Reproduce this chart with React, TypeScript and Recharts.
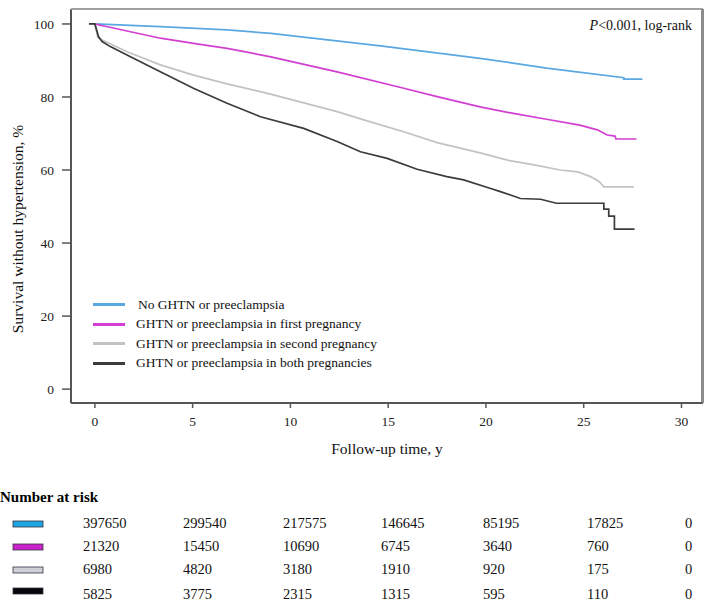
import React from 'react';
import { LineChart, Line, XAxis, YAxis, Legend } from 'recharts';

const FONT = '"Liberation Serif", "Times New Roman", serif';

// Kaplan-Meier curves (years, % survival)
const noTime = [0, 3.35, 6.76, 9.0, 14.6, 19.7, 23.1, 27.05, 27.05, 28.0];
const noSurv = [100, 99.3, 98.4, 97.4, 94.0, 90.6, 87.9, 85.3, 84.9, 84.9];

const firstTime = [0, 3.35, 5.05, 6.76, 9.0, 12.39, 15.8, 17.5, 19.7, 21.4, 23.1, 24.8, 25.7, 26.2, 26.6, 26.65, 27.7];
const firstSurv = [100, 96.1, 94.7, 93.3, 91.0, 86.9, 82.4, 80.1, 77.3, 75.5, 73.9, 72.3, 71.0, 69.6, 69.3, 68.5, 68.5];

const secondTime = [-0.3, 0, 0.15, 0.37, 1.65, 3.35, 5.05, 6.76, 8.98, 12.39, 14.09, 15.8, 17.5, 19.7, 21.1, 22.4, 23.8, 24.7, 25.35, 25.8, 26.03, 27.56];
const secondSurv = [100, 100, 96.3, 95.6, 92.4, 88.8, 86.0, 83.6, 80.8, 76.0, 73.2, 70.5, 67.5, 64.7, 62.7, 61.5, 60.0, 59.5, 58.2, 56.8, 55.4, 55.4];

const bothTime = [-0.3, 0, 0.19, 0.37, 0.79, 1.82, 3.35, 5.04, 6.76, 8.47, 10.68, 12.39, 13.58, 14.95, 16.48, 18.0, 18.86, 20.2, 20.74, 21.76, 22.8, 23.6, 26.03, 26.03, 26.28, 26.28, 26.57, 26.57, 27.6];
const bothSurv = [100, 100, 96.5, 95.2, 93.8, 91.0, 86.9, 82.4, 78.3, 74.6, 71.4, 67.8, 65.0, 63.2, 60.2, 58.2, 57.3, 55.0, 54.1, 52.2, 52.0, 50.9, 50.9, 49.3, 49.3, 47.4, 47.4, 43.8, 43.8];

const seriesNames = [
  'No GHTN or preeclampsia',
  'GHTN or preeclampsia in first pregnancy',
  'GHTN or preeclampsia in second pregnancy',
  'GHTN or preeclampsia in both pregnancies',
];

const xTicks = [0, 5, 10, 15, 20, 25, 30];
const yTicks = [0, 20, 40, 60, 80, 100];

// number at risk, by year 0..30
const riskNo = [397650, 299540, 217575, 146645, 85195, 17825, 0];
const riskFirst = [21320, 15450, 10690, 6745, 3640, 760, 0];
const riskSecond = [6980, 4820, 3180, 1910, 920, 175, 0];
const riskBoth = [5825, 3775, 2315, 1315, 595, 110, 0];

const lineColors = ['#5aa8e2', '#d23fd2', '#c2c2c2', '#3c3c3c'];
const swatchColors = ['#1ea6e2', '#c923c9', '#ccd0d6', '#05060c'];
const riskCols = [83, 183, 283, 381, 483, 587, 685];
const riskRows = [523, 546, 569, 594];

const X_DOMAIN: [number, number] = [-1.22, 31.1];
const Y_DOMAIN: [number, number] = [-3.8, 104.1];
const CHART_W = 709;
const CHART_H = 470;
const MARGIN = { top: 9, right: 6, bottom: 7, left: 0 };
const Y_AXIS_W = 71;
const X_AXIS_H = 60;

// plot box edges, from the chart layout above
const plotLeft = MARGIN.left + Y_AXIS_W;
const plotTop = MARGIN.top;
const plotRight = CHART_W - MARGIN.right;
const plotBottom = CHART_H - MARGIN.bottom - X_AXIS_H;

const toPoints = (t: number[], v: number[]) => t.map((x, i) => ({ t: x, s: v[i] }));

const series = [
  toPoints(noTime, noSurv),
  toPoints(firstTime, firstSurv),
  toPoints(secondTime, secondSurv),
  toPoints(bothTime, bothSurv),
];
const riskTable = [riskNo, riskFirst, riskSecond, riskBoth];

function LegendBox({ payload }: any) {
  const items = [...(payload || [])].sort(
    (a: any, b: any) => seriesNames.indexOf(a.value) - seriesNames.indexOf(b.value)
  );
  return (
    <div style={{ fontFamily: FONT, fontSize: 13.5, color: '#111' }}>
      {items.map((p: any, i: number) => (
        <div key={i} style={{ display: 'flex', alignItems: 'center', height: 19.5 }}>
          <div style={{ width: 32, height: 3, background: p.color, marginRight: i === 0 ? 13 : 11 }} />
          <span>{p.value}</span>
        </div>
      ))}
    </div>
  );
}

export default function App() {
  return (
    <div style={{ position: 'absolute', left: 0, top: 0, width: 709, height: 605, background: '#fff', fontFamily: FONT }}>
      <div
        style={{
          position: 'absolute',
          left: plotLeft,
          top: plotTop - 1,
          width: plotRight - plotLeft,
          height: plotBottom - plotTop,
          borderTop: '2px solid #a0a0a0',
          borderRight: '2px solid #8c8c8c',
          boxSizing: 'border-box',
        }}
      />
      <LineChart width={CHART_W} height={CHART_H} margin={MARGIN}>
        <XAxis
          type="number"
          dataKey="t"
          domain={X_DOMAIN}
          ticks={xTicks}
          allowDataOverflow
          height={X_AXIS_H}
          axisLine={{ stroke: '#555', strokeWidth: 2 }}
          tickLine={{ stroke: '#555', strokeWidth: 1.5 }}
          tickSize={5}
          tickMargin={8}
          tick={{ fill: '#222', fontSize: 13.5, fontFamily: FONT }}
        />
        <YAxis
          type="number"
          domain={Y_DOMAIN}
          ticks={yTicks}
          allowDataOverflow
          width={Y_AXIS_W}
          axisLine={{ stroke: '#555', strokeWidth: 2 }}
          tickLine={{ stroke: '#555', strokeWidth: 1.5 }}
          tickSize={9}
          tickMargin={8}
          tick={{ fill: '#222', fontSize: 13.5, fontFamily: FONT }}
        />
        {series.map((d, i) => (
          <Line
            key={i}
            data={d}
            dataKey="s"
            name={seriesNames[i]}
            type="linear"
            stroke={lineColors[i]}
            strokeWidth={1.7}
            dot={false}
            activeDot={false}
            isAnimationActive={false}
          />
        ))}
        <Legend
          layout="vertical"
          align="center"
          verticalAlign="middle"
          content={<LegendBox />}
          wrapperStyle={{ left: 93, top: 295, width: 320 }}
        />
        <text x={692} y={30} textAnchor="end" fontSize={14} fontFamily={FONT} fill="#111">
          <tspan fontStyle="italic">P</tspan>&lt;0.001, log-rank
        </text>
        <text
          x={0}
          y={0}
          textAnchor="middle"
          dominantBaseline="central"
          transform="translate(17 229) rotate(-90)"
          fontSize={15.5}
          fontFamily={FONT}
          fill="#111"
        >
          Survival without hypertension, %
        </text>
        <text x={387} y={454} textAnchor="middle" fontSize={15.5} fontFamily={FONT} fill="#111">
          Follow-up time, y
        </text>
      </LineChart>
      <svg width={709} height={605} style={{ position: 'absolute', left: 0, top: 0, pointerEvents: 'none' }}>
        <line x1={plotLeft} y1={plotTop} x2={plotRight} y2={plotTop} stroke="#a0a0a0" strokeWidth={2} />
        <line x1={plotRight} y1={plotTop} x2={plotRight} y2={plotBottom} stroke="#8c8c8c" strokeWidth={2} />
        <text x={0} y={502} fontSize={15} fontWeight="bold" fontFamily={FONT} fill="#000">
          Number at risk
        </text>
        {riskTable.map((row, r) => (
          <g key={r}>
            <rect x={13} y={riskRows[r] - 3 + (r === 3 ? -3 : 1)} width={30} height={6} fill={swatchColors[r]} stroke="#334" strokeWidth={0.8} />
            {row.map((n, c) => (
              <text key={c} x={riskCols[c]} y={riskRows[r]} dominantBaseline="central" fontSize={14.5} fontFamily={FONT} fill="#111">
                {n}
              </text>
            ))}
          </g>
        ))}
      </svg>
    </div>
  );
}
